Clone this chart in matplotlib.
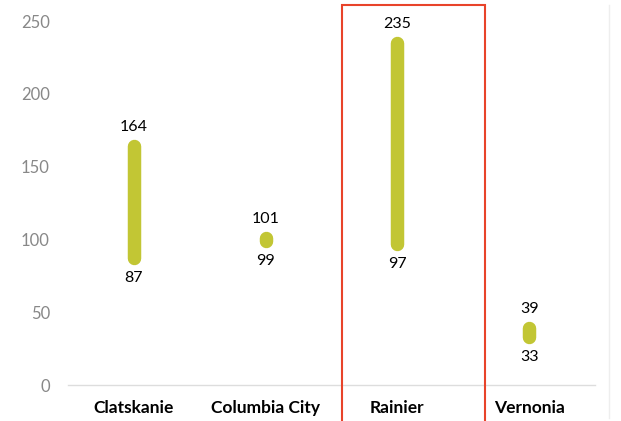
import matplotlib
matplotlib.use("Agg")
import matplotlib.pyplot as plt
from matplotlib.patches import Rectangle
from matplotlib.lines import Line2D

plt.rcParams['font.family'] = ['Lato', 'DejaVu Sans']

towns = ['Clatskanie', 'Columbia City', 'Rainier', 'Vernonia']
low = [87, 99, 97, 33]
high = [164, 101, 235, 39]
yticks = [0, 50, 100, 150, 200, 250]

bar_col = '#c2c634'

fig = plt.figure(figsize=(6.21, 4.21), dpi=100)
ax = fig.add_axes([68/621, 36/421, (595-68)/621, (385-21)/421])

for i in range(len(towns)):
    ax.plot([i, i], [low[i], high[i]], color=bar_col, lw=9.7,
            solid_capstyle='round', clip_on=False)
    ax.annotate(str(high[i]), (i, high[i]), xytext=(0, 13.5), textcoords='offset points',
                ha='center', va='center', fontsize=11.5, color='black')
    ax.annotate(str(low[i]), (i, low[i]), xytext=(0, -14.5), textcoords='offset points',
                ha='center', va='center', fontsize=11.5, color='black')

ax.set_xlim(-0.5, len(towns) - 0.5)
ax.set_ylim(0, 250)
ax.set_yticks(yticks)
ax.set_yticklabels([str(t) for t in yticks], color='#888888', fontsize=12)
ax.set_xticks(range(len(towns)))
ax.set_xticklabels(towns, fontsize=12.5, fontweight='bold')
ax.tick_params(axis='y', length=0, pad=13)
ax.tick_params(axis='x', length=0, pad=11)
for s in ['top', 'right', 'left']:
    ax.spines[s].set_visible(False)
ax.spines['bottom'].set_color('#dddddd')
ax.spines['bottom'].set_linewidth(1)

# highlight box around Rainier
fig.patches.append(Rectangle((342/621, -0.05), (485-342)/621, (421-5)/421 + 0.05,
                             transform=fig.transFigure, fill=False,
                             edgecolor='#e8432a', lw=1.5))
# faint right divider
fig.lines.append(Line2D([609/621, 609/621], [3/421, 416/421],
                        transform=fig.transFigure, color='#eeeeee', lw=1))

fig.savefig('out.png', dpi=100)
